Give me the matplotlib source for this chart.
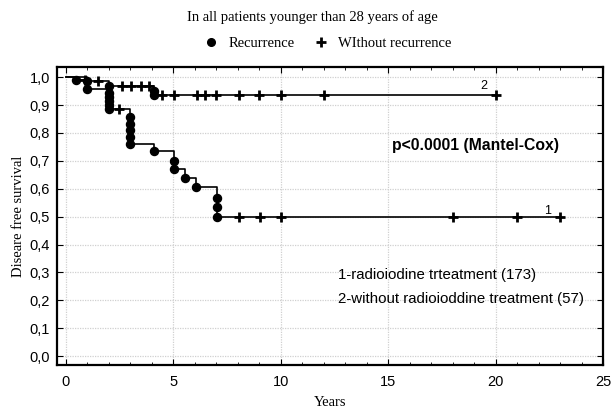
import matplotlib
matplotlib.use("Agg")
import matplotlib.pyplot as plt
from matplotlib.lines import Line2D
from matplotlib.ticker import MultipleLocator, FuncFormatter

# Group 1: radioiodine treatment (173)
g1_event_t = [0.0, 0.5, 1.0, 2.0, 2.0, 2.0, 2.0, 2.0, 3.0, 3.0, 3.0, 3.0, 3.0,
              4.1, 5.05, 5.05, 5.55, 6.05, 7.05, 7.05, 7.05]
g1_event_s = [1.0, 0.99, 0.958, 0.945, 0.93, 0.915, 0.90, 0.886, 0.857, 0.833,
              0.81, 0.785, 0.762, 0.735, 0.70, 0.672, 0.64, 0.605, 0.567, 0.533, 0.50]
g1_cens_t = [0.9, 2.5, 8.05, 9.05, 10.0, 18.0, 21.0, 23.0]
g1_cens_s = [0.99, 0.886, 0.50, 0.50, 0.50, 0.50, 0.50, 0.50]
g1_end = 23.0

# Group 2: without radioiodine treatment (57)
g2_event_t = [0.0, 1.0, 2.0, 4.1, 4.1]
g2_event_s = [1.0, 0.985, 0.97, 0.952, 0.935]
g2_cens_t = [1.5, 2.6, 3.05, 3.5, 3.9, 4.5, 5.05, 6.1, 6.5, 7.0, 8.05, 9.0, 10.0, 12.0, 20.0]
g2_cens_s = [0.985, 0.97, 0.97, 0.97, 0.97, 0.935, 0.935, 0.935, 0.935, 0.935,
             0.935, 0.935, 0.935, 0.935, 0.935]
g2_end = 20.0

fig = plt.figure(figsize=(6.11, 4.12), dpi=100)
ax = fig.add_axes([0.0933, 0.114, 0.8937, 0.723])

serif = "Liberation Serif"
sans = "Liberation Sans"

def draw(et, es, ct, cs, end):
    xs = list(et) + [end]
    ys = list(es) + [es[-1]]
    ax.step(xs, ys, where="post", color="black", lw=1.2, zorder=3)
    ax.plot(et[1:], es[1:], "o", color="black", ms=5.8, zorder=4)
    ax.plot(ct, cs, "+", color="black", ms=7, mew=2.0, zorder=4)

draw(g1_event_t, g1_event_s, g1_cens_t, g1_cens_s, g1_end)
draw(g2_event_t, g2_event_s, g2_cens_t, g2_cens_s, g2_end)

ax.set_xlim(-0.4, 25)
ax.set_ylim(-0.032, 1.036)
ax.xaxis.set_major_locator(MultipleLocator(5))
ax.xaxis.set_minor_locator(MultipleLocator(1))
ax.yaxis.set_major_locator(MultipleLocator(0.1))
ax.yaxis.set_major_formatter(FuncFormatter(lambda v, p: f"{v:.1f}".replace(".", ",")))
ax.grid(True, which="major", color="#d0d0d0", linestyle=(0, (1, 1)), lw=0.9)
ax.tick_params(which="both", direction="in", top=True, right=True, labelsize=10.5)
ax.tick_params(which="major", length=4, pad=5)
ax.tick_params(axis="x", which="major", pad=7)
ax.tick_params(which="minor", length=2.5)
for lab in ax.get_xticklabels() + ax.get_yticklabels():
    lab.set_fontfamily(sans)
for s in ax.spines.values():
    s.set_linewidth(1.6)

ax.set_xlabel("Years", fontfamily=serif, fontsize=10.5, labelpad=5)
ax.set_ylabel("Diseare free survival", fontfamily=serif, fontsize=10.5, labelpad=3)

ax.text(15.2, 0.755, "p<0.0001 (Mantel-Cox)", fontfamily=sans, fontweight="bold",
        fontsize=11.3, va="center", ha="left")
ax.text(12.65, 0.291, "1-radioiodine trteatment (173)", fontfamily=sans, fontsize=10.8,
        va="center", ha="left")
ax.text(12.65, 0.205, "2-without radioioddine treatment (57)", fontfamily=sans, fontsize=10.8,
        va="center", ha="left")
ax.text(19.45, 0.968, "2", fontfamily=sans, fontsize=9, va="center", ha="center")
ax.text(22.4, 0.522, "1", fontfamily=sans, fontsize=9, va="center", ha="center")

fig.text(0.512, 0.958, "In all patients younger than 28 years of age", fontfamily=serif,
         fontsize=10.5, ha="center", va="center")
handles = [Line2D([], [], marker="o", ls="none", color="black", ms=5.5),
           Line2D([], [], marker="+", ls="none", color="black", ms=6.5, mew=2.0)]
fig.legend(handles, ["Recurrence", "WIthout recurrence"], loc="center",
           bbox_to_anchor=(0.535, 0.895), ncol=2, frameon=False,
           prop={"family": serif, "size": 10.5}, handletextpad=0.6, columnspacing=1.2,
           handlelength=1.2)

fig.savefig("out.png", dpi=100)
